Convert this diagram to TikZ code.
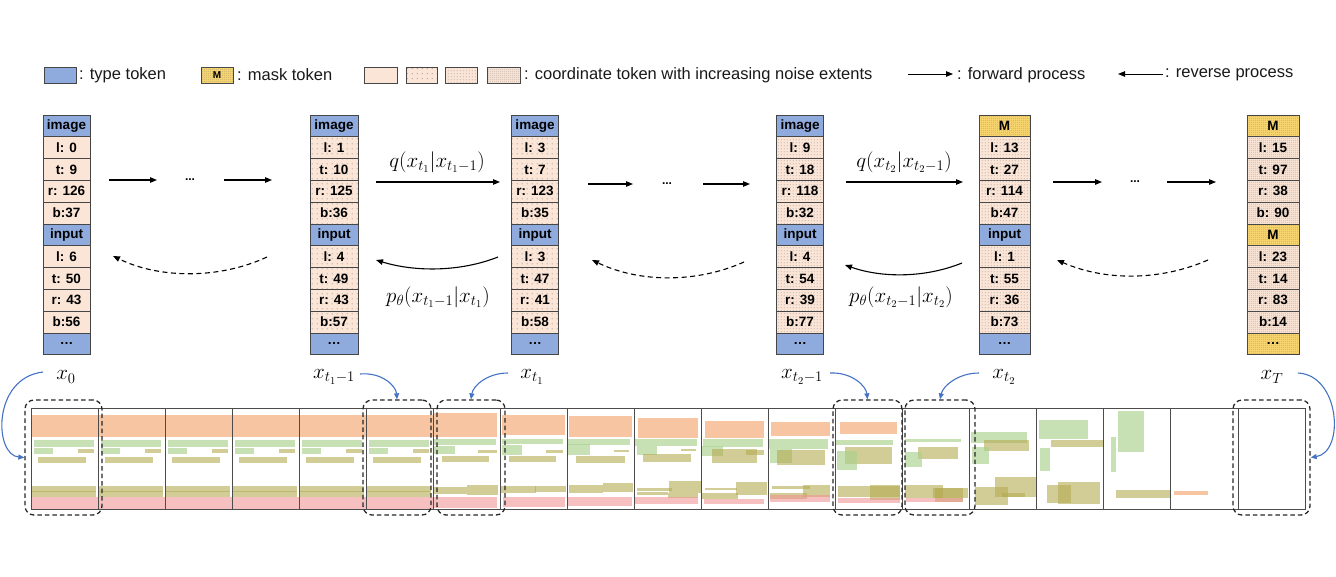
\RequirePackage{fix-cm}
\documentclass[tikz,border=0pt]{standalone}
\usepackage{fontspec}
\setmainfont{Liberation Sans}
\usetikzlibrary{arrows.meta,patterns.meta}
\definecolor{tokblue}{RGB}{143,170,220}
\definecolor{peach}{RGB}{251,229,214}
\definecolor{maskyel}{RGB}{250,214,110}
\definecolor{bordr}{RGB}{70,70,70}
\definecolor{corange}{RGB}{244,177,131}
\definecolor{cgreen}{RGB}{169,209,142}
\definecolor{colive}{RGB}{180,170,80}
\definecolor{cpink}{RGB}{240,150,150}
\definecolor{arrblue}{RGB}{68,114,196}
\tikzdeclarepattern{name=dotsA,type=uncolored,bounding box={(0pt,0pt) and (5pt,5pt)},tile size={(5pt,5pt)},
  code={\pgfpathcircle{\pgfqpoint{2.5pt}{2.5pt}}{0.5pt}\pgfusepath{fill}}}
\tikzdeclarepattern{name=dotsB,type=uncolored,bounding box={(0pt,0pt) and (3pt,3pt)},tile size={(3pt,3pt)},
  code={\pgfpathcircle{\pgfqpoint{1.5pt}{1.5pt}}{0.5pt}\pgfusepath{fill}}}
\tikzdeclarepattern{name=dotsC,type=uncolored,bounding box={(0pt,0pt) and (2.2pt,2.2pt)},tile size={(2.2pt,2.2pt)},
  code={\pgfpathcircle{\pgfqpoint{1.1pt}{1.1pt}}{0.5pt}\pgfusepath{fill}}}
\newcommand{\tokcolumn}[8]{%
  \foreach [count=\i] \t in {#8} {%
    \ifnum\i=1 \def\st{#5}\else\ifnum\i=6 \def\st{#6}\else\ifnum\i=11 \def\st{#7}\else\def\st{#4}\fi\fi\fi
    \pgfmathsetmacro\yy{115+(\i-0.5)*21.8}%
    \edef\tmp{\noexpand\node[tok,\st,minimum width=#3pt] (#1-\i) at (#2,\yy)}%
    \tmp {\t};
  }%
}
\begin{document}
\begin{tikzpicture}[x=1pt,y=-1pt,
  tok/.style={draw=bordr, line width=0.8pt, minimum height=21.8pt, inner sep=0pt, font=\fontsize{13.5}{13.5}\selectfont\bfseries, text=black},
  type tok/.style={fill=tokblue},
  mask tok/.style={fill=maskyel, postaction={pattern=dotsC, pattern color=black!60}},
  coord0/.style={fill=peach},
  coord1/.style={fill=peach, postaction={pattern=dotsA, pattern color=black!70}},
  coord2/.style={fill=peach, postaction={pattern=dotsB, pattern color=black!65}},
  coord3/.style={fill=peach, postaction={pattern=dotsC, pattern color=black!60}},
  fwd/.style={line width=1.1pt, -{Triangle[length=7pt,width=5.5pt]}},
  revd/.style={fwd, dash pattern=on 5pt off 3.5pt},
  lbl/.style={font=\fontsize{21}{23}\selectfont, text=black, inner sep=0pt},
  dbox/.style={draw=black!85, line width=1.3pt, dash pattern=on 4.5pt off 3pt, rounded corners=9pt, inner sep=0pt},
  barr/.style={draw=arrblue, line width=1.1pt, -{Triangle[length=6pt,width=5pt]}},
  lgtext/.style={anchor=west, inner sep=0pt, font=\fontsize{16.5}{18}\selectfont, text=black!90},
  lgbox/.style={draw=bordr, line width=0.8pt, minimum height=16pt, inner sep=0pt},
  dotsnode/.style={font=\fontsize{12}{12}\selectfont\bfseries, inner sep=0pt},
  sOr/.style={fill=corange, fill opacity=0.75},
  sGr/.style={fill=cgreen, fill opacity=0.65},
  sOl/.style={fill=colive, fill opacity=0.6},
  sPk/.style={fill=cpink, fill opacity=0.6},
]
\useasboundingbox (0,0) rectangle (1336,576);
% ---------- legend ----------
\node[lgbox, type tok, minimum width=32pt] (lg-type) at (60,75) {};
\node[lgtext] (lgt-type) at (79,75) {: type token};
\node[lgbox, mask tok, minimum width=32pt, font=\fontsize{10}{10}\selectfont\bfseries] (lg-mask) at (217,75) {M};
\node[lgtext] (lgt-mask) at (237,75) {: mask token};
\node[lgbox, coord0, minimum width=33pt] (lg-c0) at (380.5,75) {};
\node[lgbox, coord1, minimum width=31pt] (lg-c1) at (421.5,75) {};
\node[lgbox, coord2, minimum width=32pt] (lg-c2) at (461,75) {};
\node[lgbox, coord3, minimum width=33pt] (lg-c3) at (503.5,75) {};
\node[lgtext] (lgt-coord) at (524,75) {: coordinate token with increasing noise extents};
\coordinate (lgf-s) at (908,74); \coordinate (lgf-e) at (953,74);
\draw[fwd, line width=0.9pt] (lgf-s) -- (lgf-e);
\node[lgtext] (lgt-fwd) at (957,75) {: forward process};
\coordinate (lgr-s) at (1163,74); \coordinate (lgr-e) at (1118,74);
\draw[fwd, line width=0.9pt] (lgr-s) -- (lgr-e);
\node[lgtext] (lgt-rev) at (1165,75) {: reverse process};
% ---------- token columns ----------
\tokcolumn{c0}{66.5}{47}{coord0}{type tok}{type tok}{type tok}{image,l: 0,t: 9,r: 126,b:37,input,l: 6,t: 50,r: 43,b:56,\ldots}
\tokcolumn{c1}{334}{48}{coord1}{type tok}{type tok}{type tok}{image,l: 1,t: 10,r: 125,b:36,input,l: 4,t: 49,r: 43,b:57,\ldots}
\tokcolumn{c2}{535}{46.5}{coord1}{type tok}{type tok}{type tok}{image,l: 3,t: 7,r: 123,b:35,input,l: 3,t: 47,r: 41,b:58,\ldots}
\tokcolumn{c3}{800}{46.5}{coord2}{type tok}{type tok}{type tok}{image,l: 9,t: 18,r: 118,b:32,input,l: 4,t: 54,r: 39,b:77,\ldots}
\tokcolumn{c4}{1004.5}{51}{coord2}{mask tok}{type tok}{type tok}{M,l: 13,t: 27,r: 114,b:47,input,l: 1,t: 55,r: 36,b:73,\ldots}
\tokcolumn{c5}{1273}{52}{coord3}{mask tok}{mask tok}{mask tok}{M,l: 15,t: 97,r: 38,b: 90,M,l: 23,t: 14,r: 83,b:14,\ldots}
% ---------- forward / reverse arrows ----------
\node[dotsnode] (d0) at (190,180) {...};
\coordinate (f0a) at (109,180); \coordinate (f0b) at (157,180);
\coordinate (f0c) at (224,180); \coordinate (f0d) at (272,180);
\draw[fwd] (f0a) -- (f0b); \draw[fwd] (f0c) -- (f0d);
\coordinate (r0s) at (267,257); \coordinate (r0e) at (113,256);
\draw[revd] (r0s) .. controls (220,279) and (160,279) .. (r0e);

\coordinate (f1a) at (376,182); \coordinate (f1b) at (500,182);
\draw[fwd] (f1a) -- (f1b);
\node[lbl] (q1) at (437,162) {$q(x_{t_1}|x_{t_1-1})$};
\coordinate (r1s) at (498,257); \coordinate (r1e) at (376,260);
\draw[fwd] (r1s) .. controls (460,272) and (415,272) .. (r1e);
\node[lbl] (p1) at (438,297) {$p_\theta(x_{t_1-1}|x_{t_1})$};

\node[dotsnode] (d1) at (667,184) {...};
\coordinate (f2a) at (588,184); \coordinate (f2b) at (633,184);
\coordinate (f2c) at (703,184); \coordinate (f2d) at (750,184);
\draw[fwd] (f2a) -- (f2b); \draw[fwd] (f2c) -- (f2d);
\coordinate (r2s) at (744,262); \coordinate (r2e) at (592,260);
\draw[revd] (r2s) .. controls (697,283) and (640,283) .. (r2e);

\coordinate (f3a) at (846,182); \coordinate (f3b) at (963,182);
\draw[fwd] (f3a) -- (f3b);
\node[lbl] (q2) at (904,162) {$q(x_{t_2}|x_{t_2-1})$};
\coordinate (r3s) at (962,263); \coordinate (r3e) at (845,265);
\draw[fwd] (r3s) .. controls (925,278) and (882,278) .. (r3e);
\node[lbl] (p2) at (901,297) {$p_\theta(x_{t_2-1}|x_{t_2})$};

\node[dotsnode] (d2) at (1135,182) {...};
\coordinate (f4a) at (1053,182); \coordinate (f4b) at (1102,182);
\coordinate (f4c) at (1167,182); \coordinate (f4d) at (1216,182);
\draw[fwd] (f4a) -- (f4b); \draw[fwd] (f4c) -- (f4d);
\coordinate (r4s) at (1208,260); \coordinate (r4e) at (1057,260);
\draw[revd] (r4s) .. controls (1160,281) and (1105,281) .. (r4e);
% ---------- labels under columns ----------
\node[lbl] (l0) at (66,377) {$x_0$};
\node[lbl] (l1) at (334,377) {$x_{t_1-1}$};
\node[lbl] (l2) at (532,377) {$x_{t_1}$};
\node[lbl] (l3) at (802,377) {$x_{t_2-1}$};
\node[lbl] (l4) at (1004,377) {$x_{t_2}$};
\node[lbl] (l5) at (1272,377) {$x_T$};
% ---------- strip content ----------
\fill[sOr] (31,415) rectangle (433,437);
\fill[sPk] (31,497) rectangle (433,509);
\foreach \k in {0,...,5} {
  \pgfmathsetmacro\L{31+67.05*\k}
  \fill[sGr] (\L+3,440) rectangle (\L+63,447);
  \fill[sGr] (\L+3,448) rectangle (\L+22,454);
  \fill[sOl] (\L+47,449) rectangle (\L+63,453);
  \fill[sOl] (\L+7,457) rectangle (\L+55,463);
  \fill[sOl] (\L+1,486) rectangle (\L+34,492);
  \fill[sOl] (\L+1,491) rectangle (\L+34,497);
  \fill[sOl] (\L+34,486) rectangle (\L+65,492);
  \fill[sOl] (\L+34,491) rectangle (\L+65,497);
}
% cell 6
\fill[sOr] (433,413) rectangle (497,437);
\fill[sGr] (433,439) rectangle (496,445);
\fill[sGr] (433,446) rectangle (455,454);
\fill[sOl] (478,450) rectangle (497,453);
\fill[sOl] (442,456) rectangle (489,462);
\fill[sOl] (433,487) rectangle (467,494);
\fill[sOl] (467,485) rectangle (498,495);
\fill[sPk] (433,497) rectangle (497,508);
% cell 7
\fill[sOr] (502,415) rectangle (565,435);
\fill[sGr] (502,439) rectangle (563,444);
\fill[sGr] (502,445) rectangle (522,455);
\fill[sOl] (546,450) rectangle (563,453);
\fill[sOl] (509,456) rectangle (556,462);
\fill[sOl] (500,486) rectangle (536,493);
\fill[sOl] (535,486) rectangle (566,492);
\fill[sPk] (503,497) rectangle (565,507);
% cell 8
\fill[sOr] (569,416) rectangle (632,437);
\fill[sGr] (568,439) rectangle (630,445);
\fill[sGr] (568,444) rectangle (590,455);
\fill[sOl] (614,450) rectangle (629,452);
\fill[sOl] (576,456) rectangle (625,463);
\fill[sOl] (569,485) rectangle (603,493);
\fill[sOl] (603,483) rectangle (633,492);
\fill[sPk] (568,497) rectangle (632,506);
% cell 9
\fill[sOr] (638,418) rectangle (698,438);
\fill[sGr] (634,439) rectangle (697,446);
\fill[sGr] (637,446) rectangle (657,455);
\fill[sOl] (681,449) rectangle (696,451);
\fill[sOl] (643,454) rectangle (691,462);
\fill[sOl] (637,488) rectangle (672,491);
\fill[sOl] (669,481) rectangle (701,493);
\fill[sOl] (637,492) rectangle (668,495);
\fill[sOl] (668,493) rectangle (698,498);
\fill[sPk] (635,497) rectangle (698,504);
% cell 10
\fill[sOr] (705,421) rectangle (764,438);
\fill[sGr] (703,439) rectangle (763,447);
\fill[sGr] (702,446) rectangle (723,456);
\fill[sOl] (712,449) rectangle (757,463);
\fill[sOl] (746,450) rectangle (764,455);
\fill[sOl] (705,488) rectangle (737,490);
\fill[sOl] (736,482) rectangle (767,495);
\fill[sOl] (702,493) rectangle (738,499);
\fill[sPk] (704,499) rectangle (764,504);
% cell 11
\fill[sOr] (771,422) rectangle (830,436);
\fill[sGr] (769,439) rectangle (828,449);
\fill[sGr] (770,449) rectangle (792,463);
\fill[sOl] (777,450) rectangle (825,465);
\fill[sOl] (772,486) rectangle (810,489);
\fill[sOl] (803,485) rectangle (830,497);
\fill[sOl] (770,493) rectangle (807,499);
\fill[sPk] (770,495) rectangle (830,502);
% cell 12
\fill[sOr] (840,422) rectangle (897,434);
\fill[sGr] (836,440) rectangle (893,445);
\fill[sOl] (845,447) rectangle (892,464);
\fill[sGr] (837,451) rectangle (857,470);
\fill[sOl] (838,486) rectangle (900,497);
\fill[sOl] (870,485) rectangle (900,500);
\fill[sPk] (838,498) rectangle (900,503);
% cell 13
\fill[sGr] (905,439) rectangle (961,442);
\fill[sOl] (918,447) rectangle (958,459);
\fill[sGr] (905,452) rectangle (922,467);
\fill[sOl] (905,485) rectangle (943,498);
\fill[sOl] (933,488) rectangle (968,498);
\fill[sOl] (935,488) rectangle (963,502);
\fill[sPk] (906,498) rectangle (963,502);
% cell 14
\fill[sGr] (971,432) rectangle (1027,443);
\fill[sOl] (984,440) rectangle (1029,451);
\fill[sGr] (972,447) rectangle (989,464);
\fill[sOl] (995,477) rectangle (1036,497);
\fill[sOl] (975,487) rectangle (1008,505);
\fill[sOl] (1002,493) rectangle (1025,497);
% cell 15
\fill[sGr] (1039,420) rectangle (1088,439);
\fill[sOl] (1051,440) rectangle (1103,447);
\fill[sGr] (1040,448) rectangle (1050,471);
\fill[sOl] (1047,485) rectangle (1071,503);
\fill[sOl] (1058,482) rectangle (1100,504);
% cell 16
\fill[sGr] (1118,411) rectangle (1144,452);
\fill[sGr] (1111,437) rectangle (1116,472);
\fill[sOl] (1116,490) rectangle (1171,498);
% cell 17
\fill[sOr] (1174,491) rectangle (1208,495);
% grid
\draw[black!70, line width=0.8pt] (31,408) rectangle (1305,509);
\foreach \k in {1,...,18} \draw[black!70, line width=0.8pt] ({31+67.05*\k},408) -- ({31+67.05*\k},509);
% dashed boxes
\node[dbox, minimum width=77pt, minimum height=115pt] (b0) at (63.5,457.5) {};
\node[dbox, minimum width=68pt, minimum height=115pt] (b5) at (397,457.5) {};
\node[dbox, minimum width=68pt, minimum height=115pt] (b6) at (471,457.5) {};
\node[dbox, minimum width=69pt, minimum height=115pt] (b12) at (867.5,457.5) {};
\node[dbox, minimum width=70pt, minimum height=115pt] (b13) at (940,457.5) {};
\node[dbox, minimum width=77pt, minimum height=115pt] (b18) at (1271.5,457.5) {};
% blue arrows
\coordinate (s0) at (43,372);
\draw[barr] (s0) .. controls (-8,378) and (-6,455) .. (b0.west);
\coordinate (s1) at (360,374);
\draw[barr] (s1) .. controls (382,372) and (396,386) .. (b5.north);
\coordinate (s2) at (508,373);
\draw[barr] (s2) .. controls (487,373) and (473,386) .. (b6.north);
\coordinate (s3) at (830,373);
\draw[barr] (s3) .. controls (852,372) and (866,386) .. (b12.north);
\coordinate (s4) at (979,373);
\draw[barr] (s4) .. controls (958,373) and (943,386) .. (b13.north);
\coordinate (s5) at (1298,373);
\draw[barr] (s5) .. controls (1340,375) and (1345,452) .. (b18.east);
\end{tikzpicture}
\end{document}
